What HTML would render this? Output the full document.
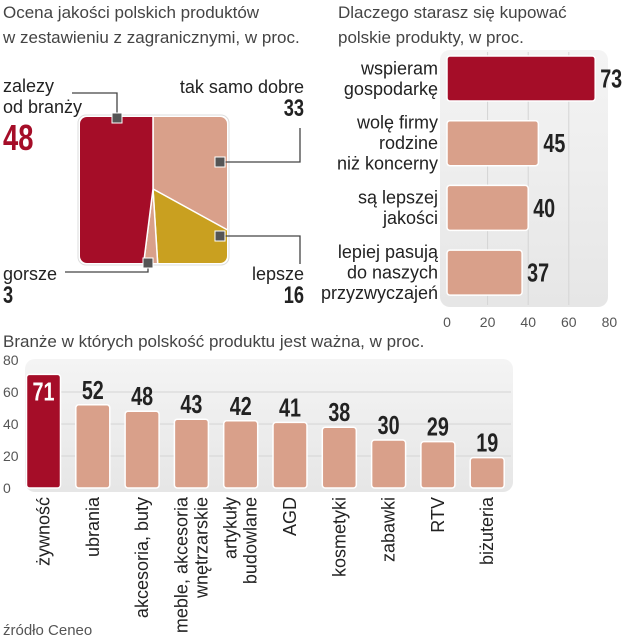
<!DOCTYPE html>
<html><head><meta charset="utf-8"><style>
body{margin:0;background:#fff;}
svg{display:block;font-family:"Liberation Sans Narrow","Liberation Sans",sans-serif;}
.t{fill:#444;font-size:17px;}
.l{fill:#222;font-size:18px;}
.n{font-size:24px;font-weight:bold;}
.k{fill:#555;font-size:14px;}
</style></head><body>
<svg id="c" width="623" height="640" viewBox="0 0 623 640">
<defs>
<linearGradient id="pg" x1="0" y1="0" x2="0" y2="1"><stop offset="0" stop-color="#f4f4f4"/><stop offset="1" stop-color="#e6e6e6"/></linearGradient>
<clipPath id="pc"><rect x="80" y="117" width="147" height="146" rx="7"/></clipPath>
</defs>
<text class="t" x="3" y="18">Ocena jakości polskich produktów</text>
<text class="t" x="3" y="43">w zestawieniu z zagranicznymi, w proc.</text>
<text class="t" x="338" y="18">Dlaczego starasz się kupować</text>
<text class="t" x="338" y="43">polskie produkty, w proc.</text>
<text class="t" x="3" y="347">Branże w których polskość produktu jest ważna, w proc.</text>
<g id="pie"></g>
<g id="hbar"></g>
<g id="vbar"></g>
<text class="k" x="3" y="635" style="font-size:15px">źródło Ceneo</text>
</svg>
<script>
const pieLabels=["tak samo dobre","lepsze","gorsze","zalezy od branży"];
const pieValues=[33,16,3,48];
const pieColors=["#d9a08a","#c9a020","#d9a08a","#a50d28"];
const reasonLabels=[["wspieram","gospodarkę"],["wolę firmy","rodzine","niż koncerny"],["są lepszej","jakości"],["lepiej pasują","do naszych","przyzwyczajeń"]];
const reasonValues=[73,45,40,37];
const hTicks=[0,20,40,60,80];
const indLabels=[["żywność"],["ubrania"],["akcesoria, buty"],["meble, akcesoria","wnętrzarskie"],["artykuły","budowlane"],["AGD"],["kosmetyki"],["zabawki"],["RTV"],["biżuteria"]];
const indValues=[71,52,48,43,42,41,38,30,29,19];
const vTicks=[0,20,40,60,80];
const NS="http://www.w3.org/2000/svg";
function mk(p,tag,a){const e=document.createElementNS(NS,tag);for(const k in a)e.setAttribute(k,a[k]);p.appendChild(e);return e;}
function num(p,x,y,anchor,val,color,size){const t=mk(p,'text',{x:0,y:0,'text-anchor':anchor,class:'n',transform:`translate(${x} ${y}) scale(0.76 1)`});t.textContent=val;t.style.fill=color;if(size)t.style.fontSize=size+'px';return t;}
// pie
const pie=document.getElementById('pie');
const cx=153,cy=189,R=160;
const bg=mk(pie,'rect',{x:78,y:115,width:151,height:150,rx:8,fill:'#fff',stroke:'#ddd'});


const tot=pieValues.reduce((a,b)=>a+b,0);let acc=0;
const cg=mk(pie,'g',{'clip-path':'url(#pc)'});
pieValues.forEach((v,i)=>{const a0=acc/tot*2*Math.PI;acc+=v;const a1=acc/tot*2*Math.PI;
const x0=cx+R*Math.sin(a0),y0=cy-R*Math.cos(a0),x1=cx+R*Math.sin(a1),y1=cy-R*Math.cos(a1);
const p=mk(cg,'path',{d:`M${cx},${cy}L${x0},${y0}A${R},${R} 0 ${a1-a0>Math.PI?1:0} 1 ${x1},${y1}Z`,fill:pieColors[i],stroke:'#fff','stroke-width':1.5});

});
const leaders=[["M220,162H300V128",220,162],["M220,236H300V264",220,236],["M148,263V272H65",148,263],["M117,118V93H72",117,118]];
leaders.forEach((l,i)=>{const p=mk(pie,'path',{d:l[0],fill:'none',stroke:'#444','stroke-width':1.3});


const r=mk(pie,'rect',{x:l[1]-5,y:l[2]-5,width:10,height:10,fill:'#555',stroke:'#fff','stroke-width':1});

});
const pl=[[304,"end",93,116,["tak samo dobre"]],[304,"end",280,303,["lepsze"]],[3,"start",280,303,["gorsze"]],[3,"start",92,150,["zalezy","od branży"]]];
pl.forEach((q,i)=>{q[4].forEach((s,j)=>{const t=mk(pie,'text',{x:q[0],y:q[2]+j*21,'text-anchor':q[1],class:'l'});t.textContent=s;

});
const n=num(pie,q[0],q[3],q[1],pieValues[i],i==3?'#a50d28':'#222',i==3?36:24);

});
// hbar
const hb=document.getElementById('hbar');
const hx=v=>447+v*2.03;
const hp=mk(hb,'rect',{x:440,y:50,width:168,height:257,rx:10,fill:'url(#pg)'});


hTicks.forEach(t=>{if(t>0&&t<80){const g=mk(hb,'line',{x1:hx(t),x2:hx(t),y1:52,y2:305,stroke:'#d4d4d4'});

}
const tx=mk(hb,'text',{x:hx(t),y:327,'text-anchor':'middle',class:'k'});tx.textContent=t;

});
reasonValues.forEach((v,i)=>{const y0=56+i*64.7,h=45;
const r=mk(hb,'rect',{x:hx(0),y:y0,width:hx(v)-hx(0),height:h,rx:3,fill:i==0?'#a50d28':'#d9a08a',stroke:'#fff','stroke-width':1.5});


const n=num(hb,hx(v)+5,y0+h/2+9,'start',v,'#222',26);


const L=reasonLabels[i];L.forEach((s,j)=>{const t=mk(hb,'text',{x:438,y:y0+h/2+6+(j-(L.length-1)/2)*20.5,'text-anchor':'end',class:'l'});t.textContent=s;

});});
// vbar
const vb=document.getElementById('vbar');
const vy=v=>488-v*1.6;
const vp=mk(vb,'rect',{x:25,y:359,width:488,height:133,rx:10,fill:'url(#pg)'});


vTicks.forEach(t=>{if(t>0&&t<80){const g=mk(vb,'line',{x1:27,x2:511,y1:vy(t),y2:vy(t),stroke:'#d4d4d4'});

}
const tx=mk(vb,'text',{x:3,y:vy(t)+5,class:'k'});tx.textContent=t;

});
indValues.forEach((v,i)=>{const c=43.5+i*49.3;
const r=mk(vb,'rect',{x:c-17,y:vy(v),width:34,height:vy(0)-vy(v),rx:3,fill:i==0?'#a50d28':'#d9a08a',stroke:'#fff','stroke-width':1.5});


const n=num(vb,c,i==0?vy(v)+26:vy(v)-6,'middle',v,i==0?'#fff':'#222',26);


const L=indLabels[i];L.forEach((s,j)=>{const x=c+6+(j-(L.length-1)/2)*20;
const t=mk(vb,'text',{x:x,y:497,'text-anchor':'end',class:'l',transform:`rotate(-90 ${x} 497)`});t.textContent=s;

});});
</script>
</body></html>
